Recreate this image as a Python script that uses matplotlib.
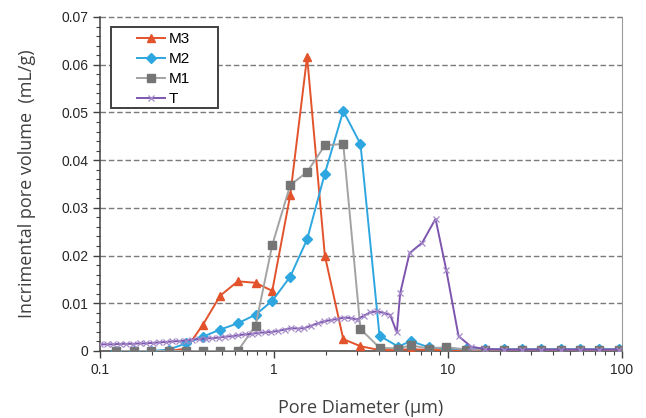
import matplotlib
matplotlib.use("Agg")
import matplotlib.pyplot as plt
from matplotlib.patches import Rectangle
from matplotlib.ticker import FixedLocator, NullFormatter, MultipleLocator

# ---- data ----
diam_m = [0.124, 0.156, 0.197, 0.248, 0.313, 0.390, 0.491, 0.619, 0.783, 0.977,
          1.24, 1.55, 1.96, 2.50, 3.14, 4.04, 5.19, 6.09, 7.73, 9.80,
          12.7, 16.4, 21.1, 26.7, 34.3, 44.8, 57.5, 73.3, 95.5]
m3 = [0, 0, 0, 0, 0.0005, 0.0055, 0.0116, 0.0146, 0.0143, 0.0126,
      0.0327, 0.0617, 0.0200, 0.0025, 0.0010, 0.0002, 0.0002, 0.0004, 0.0002, 0.0002,
      0.0002, 0.0002, 0.0002, 0.0002, 0.0002, 0.0002, 0.0002, 0.0002, 0.0002]
m2 = [0, 0, 0, 0.0003, 0.0016, 0.0030, 0.0045, 0.0058, 0.0076, 0.0105,
      0.0156, 0.0234, 0.0372, 0.0503, 0.0434, 0.0032, 0.0009, 0.0021, 0.0008, 0.0005,
      0.0004, 0.0004, 0.0004, 0.0004, 0.0004, 0.0004, 0.0004, 0.0004, 0.0004]
m1 = [0, 0, 0, 0, 0, 0, 0, 0, 0.0053, 0.0222,
      0.0348, 0.0375, 0.0431, 0.0434, 0.0046, 0.0007, 0.0005, 0.0012, 0.0005, 0.0008,
      0.0003, 0.0003, 0.0003, 0.0003, 0.0003, 0.0003, 0.0003, 0.0003, 0.0003]

diam_t = [0.100, 0.109, 0.119, 0.130, 0.142, 0.155, 0.169, 0.184, 0.201, 0.219,
          0.239, 0.261, 0.285, 0.311, 0.339, 0.370, 0.404, 0.441, 0.481, 0.525,
          0.573, 0.625, 0.682, 0.744, 0.812, 0.886, 0.967, 1.055, 1.151, 1.256,
          1.371, 1.496, 1.632, 1.781, 1.943, 2.120, 2.313, 2.524, 2.754, 3.005,
          3.279, 3.578, 3.904, 4.260, 4.648, 5.08, 5.31, 6.01, 7.11, 8.48,
          9.77, 11.5, 13.6, 16.4, 21.1, 26.7, 34.3, 44.8, 57.5, 73.3, 95.5]
t = [0.0014, 0.0014, 0.0014, 0.0015, 0.0015, 0.0015, 0.0016, 0.0016, 0.0017, 0.0018,
     0.0019, 0.0020, 0.0021, 0.0022, 0.0024, 0.0025, 0.0026, 0.0027, 0.0028, 0.0030,
     0.0031, 0.0033, 0.0035, 0.0036, 0.0038, 0.0039, 0.0040, 0.0042, 0.0045, 0.0048,
     0.0047, 0.0048, 0.0053, 0.0058, 0.0062, 0.0065, 0.0067, 0.0070, 0.0069, 0.0066,
     0.0074, 0.0081, 0.0083, 0.0080, 0.0076, 0.0039, 0.0121, 0.0205, 0.0227, 0.0277,
     0.0170, 0.0031, 0.0009, 0.0004, 0.0003, 0.0003, 0.0003, 0.0003, 0.0003, 0.0003, 0.0003]

series_labels = ["M3", "M2", "M1", "T"]
y_ticks = [0, 0.01, 0.02, 0.03, 0.04, 0.05, 0.06, 0.07]
y_tick_labels = ["0", "0.01", "0.02", "0.03", "0.04", "0.05", "0.06", "0.07"]
x_ticks = [0.1, 1, 10, 100]
x_tick_labels = ["0.1", "1", "10", "100"]

# ---- figure ----
W, H = 646, 418
fig = plt.figure(figsize=(W / 100, H / 100), dpi=100)
ax = fig.add_axes([100 / W, 1 - 351 / H, 522 / W, 334 / H])

c_m3 = "#E2532C"
c_m2 = "#2EA6DF"
c_m1 = "#A3A3A3"
c_m1m = "#757575"
c_t = "#7D55AE"

ax.plot(diam_m, m3, color=c_m3, lw=1.4, marker="^", ms=6, mfc=c_m3, mec=c_m3, label=series_labels[0], zorder=3)
ax.plot(diam_m, m2, color=c_m2, lw=1.4, marker="D", ms=5, mfc=c_m2, mec=c_m2, label=series_labels[1], zorder=4)
ax.plot(diam_m, m1, color=c_m1, lw=1.4, marker="s", ms=6, mfc=c_m1m, mec=c_m1m, label=series_labels[2], zorder=5)
ax.plot(diam_t, t, color=c_t, lw=1.4, marker="x", ms=5, mew=0.9, mec="#A48AC8", label=series_labels[3], zorder=6)

ax.set_xscale("log")
ax.set_xlim(0.1, 100)
ax.set_ylim(0, 0.07)

ax.xaxis.set_major_locator(FixedLocator(x_ticks))
ax.set_xticklabels(x_tick_labels)
ax.xaxis.set_minor_locator(FixedLocator([k * 10.0 ** e for e in (-1, 0, 1) for k in range(2, 10)]))
ax.xaxis.set_minor_formatter(NullFormatter())
ax.set_yticks(y_ticks)
ax.set_yticklabels(y_tick_labels)
ax.yaxis.set_minor_locator(MultipleLocator(0.002))

ax.tick_params(axis="both", which="major", direction="out", length=5, width=1, color="#404040",
               labelsize=10, labelcolor="#262626")
ax.tick_params(axis="both", which="minor", direction="out", length=3, width=0.8, color="#404040")

for y in y_ticks[1:]:
    ax.axhline(y, color="#7a7a7a", lw=1.0, ls=(0, (4, 2)), zorder=1, clip_on=False)

ax.spines["top"].set_visible(False)
ax.spines["left"].set_color("#404040")
ax.spines["bottom"].set_color("#404040")
ax.spines["right"].set_color("#9a9a9a")
for s in ("left", "bottom"):
    ax.spines[s].set_linewidth(1.1)

lab_font = "Open Sans"
ax.set_xlabel("Pore Diameter (µm)", fontsize=13, color="#404040", family=lab_font, labelpad=16)
ax.set_ylabel("Incrimental pore volume  (mL/g)", fontsize=13, color="#404040", family=lab_font, labelpad=18)
for lbl in ax.get_xticklabels() + ax.get_yticklabels():
    lbl.set_family("Liberation Sans")

# legend: entries without frame, plus a separate box drawn like the reference
leg = ax.legend(loc="upper left", bbox_to_anchor=(137 / W, 1 - 32 / H), bbox_transform=fig.transFigure,
                frameon=False, handlelength=1.8, handletextpad=0.25,
                labelspacing=0.39, borderpad=0.0, borderaxespad=0.0,
                prop={"family": "Liberation Sans", "size": 11})
leg.set_zorder(11)
box = Rectangle((111 / W, 1 - 108 / H), 107 / W, 81 / H, transform=fig.transFigure,
                facecolor="white", edgecolor="#404040", lw=1.4, zorder=10)
ax.add_artist(box)
box.set_clip_on(False)

fig.savefig("out.png", dpi=100)
